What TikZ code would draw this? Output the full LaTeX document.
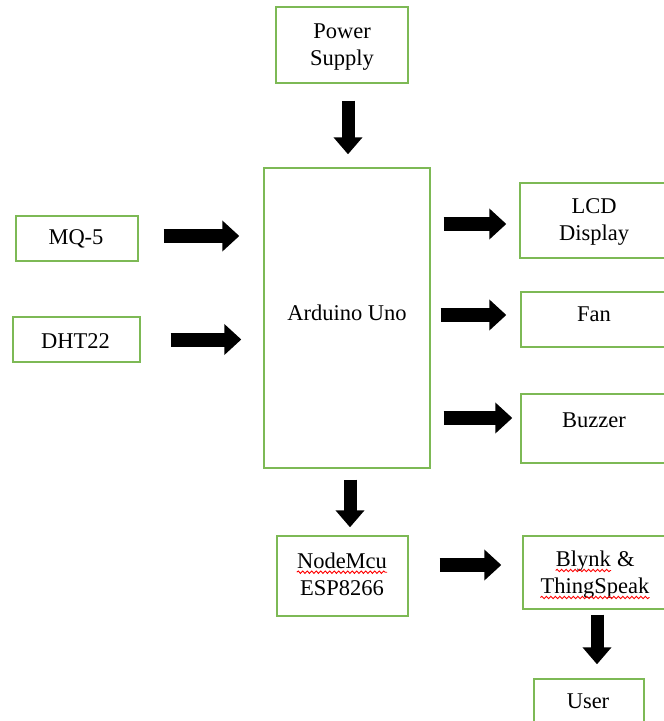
\documentclass[tikz,border=0pt]{standalone}
\usepackage{fontspec}
\setmainfont{Liberation Serif}
\usetikzlibrary{arrows.meta,decorations.pathmorphing}
\definecolor{boxgreen}{RGB}{125,185,85}
\newcommand{\spellwave}[1]{\tikz[baseline=(sw.base)]{\node[inner sep=0pt, anchor=base] (sw) at (0,0) {#1};
  \draw[red, line width=0.9pt, decorate, decoration={snake,amplitude=1.2pt,segment length=4.5pt}] ([yshift=-4pt]sw.base west) -- ([yshift=-4pt]sw.base east);}}
\begin{document}
\begin{tikzpicture}[x=1pt,y=-1pt,
  box/.style={draw=boxgreen, line width=1.4pt, rectangle, inner sep=0pt},
  txt/.style={inner sep=0pt, align=center, font=\fontsize{22.5}{27}\selectfont},
  blk/.style={line width=14pt, -{Triangle[width=30pt,length=17pt]}},
  vblk/.style={line width=13pt, -{Triangle[width=28pt,length=17pt]}}]
\useasboundingbox (0,0) rectangle (664,721);
\clip (0,0) rectangle (664,721);
\fill[white] (0,0) rectangle (664,721);
% boxes
\node[box, minimum width=132pt, minimum height=76pt] (ps) at (342,45) {};
\node[box, minimum width=166pt, minimum height=300pt] (ard) at (347,318) {};
\node[box, minimum width=122pt, minimum height=45pt] (mq) at (77,238.5) {};
\node[box, minimum width=127pt, minimum height=45pt] (dht) at (76.5,339.5) {};
\node[box, minimum width=152pt, minimum height=75pt] (lcd) at (596,220.5) {};
\node[box, minimum width=152pt, minimum height=55pt] (fan) at (597,319.5) {};
\node[box, minimum width=152pt, minimum height=69pt] (buz) at (597,428.5) {};
\node[box, minimum width=131pt, minimum height=80pt] (nm) at (342.5,576) {};
\node[box, minimum width=148pt, minimum height=73pt] (bl) at (597,572.5) {};
\node[box, minimum width=110pt, minimum height=56pt] (usr) at (589,707) {};
% texts
\node[txt] (psT) at (342,47) {Power\\Supply};
\node[txt] (ardT) at (347,312.5) {Arduino Uno};
\node[txt] (mqT) at (76,238.5) {MQ-5};
\node[txt] (dhtT) at (75.5,341.5) {DHT22};
\node[txt] (lcdT) at (594,221.5) {LCD\\Display};
\node[txt] (fanT) at (594,314.5) {Fan};
\node[txt] (buzT) at (594,420.5) {Buzzer};
\node[txt] (nmT) at (342,574) {\spellwave{NodeMcu}\\ESP8266};
\node[txt] (blT) at (595,575) {\spellwave{Blynk} \&\\\spellwave{ThingSpeak}};
\node[txt] (usrT) at (588,701.5) {User};
% arrows
\draw[vblk, shorten <=17pt, shorten >=13pt] ([xshift=1pt]ard.north |- ps.south) -- ([xshift=1pt]ard.north);
\draw[blk, shorten <=25pt, shorten >=24pt] ([yshift=2.5pt]mq.east) -- ([yshift=2.5pt]mq.east -| ard.west);
\draw[blk, shorten <=30pt, shorten >=22pt] (dht.east) -- (dht.east -| ard.west);
\draw[blk, shorten <=13pt, shorten >=13pt] ([yshift=-3.5pt]ard.east |- lcd.west) -- ([yshift=-3.5pt]lcd.west);
\draw[blk, shorten <=10pt, shorten >=14pt] ([yshift=4.5pt]ard.east |- fan.west) -- ([yshift=4.5pt]fan.west);
\draw[blk, shorten <=13pt, shorten >=8pt] ([yshift=10.5pt]ard.east |- buz.west) -- ([yshift=10.5pt]buz.west);
\draw[vblk, shorten <=11pt, shorten >=8pt] ([xshift=3pt]ard.south) -- ([xshift=3pt]ard.south |- nm.north);
\draw[blk, shorten <=31pt, shorten >=21pt] ([yshift=11pt]nm.east) -- ([yshift=11pt]nm.east -| bl.west);
\draw[vblk, shorten <=5pt, shorten >=14pt] (bl.south) -- (bl.south |- usr.north);
\end{tikzpicture}
\end{document}
